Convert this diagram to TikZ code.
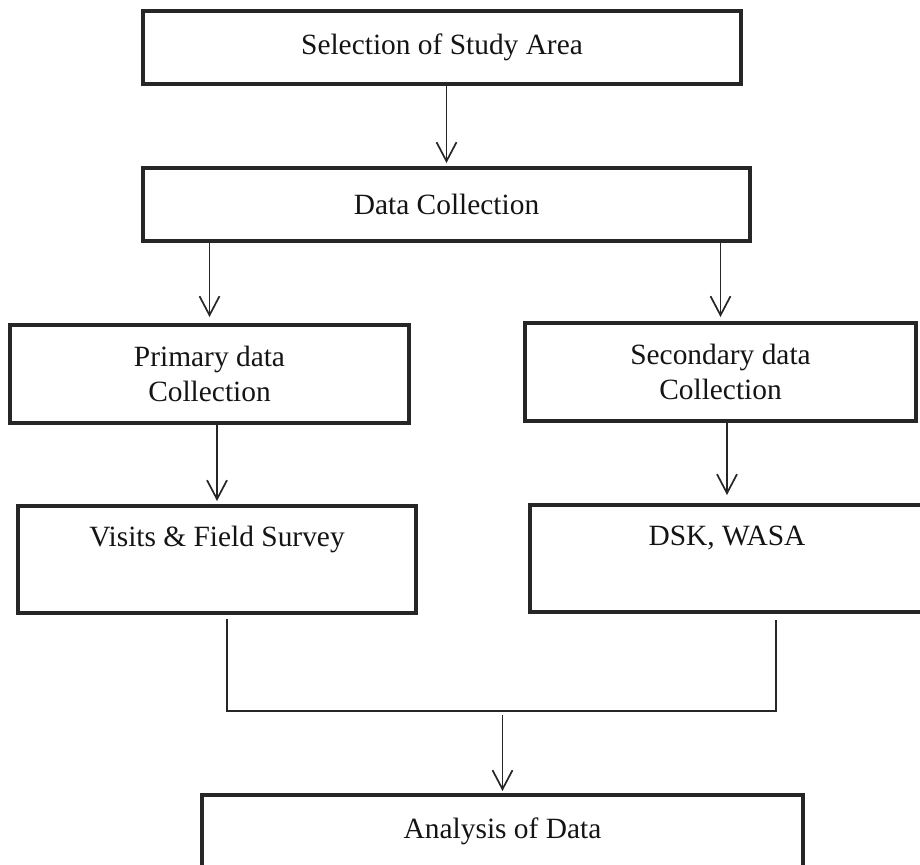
\documentclass[tikz,border=0pt]{standalone}
\usepackage{fontspec}
\setmainfont{Liberation Serif}
\usepackage{tikz}
\usepackage{xcolor}
\usetikzlibrary{positioning, arrows.meta, calc}
\definecolor{boxEdge}{HTML}{262626}
\definecolor{boxText}{HTML}{141414}

\begin{document}
\begin{tikzpicture}[x=0.5pt, y=-0.5pt,
    flowbox/.style={rectangle, draw=boxEdge, line width=2pt, inner sep=0pt,
      text=boxText, align=center, font=\fontsize{14.7}{17.5}\selectfont},
    toptext/.style={text height=11pt, text depth=24pt},
    flowarrow/.style={-{Straight Barb[length=9.5pt, width=10pt]}, line width=0.85pt, draw=boxEdge},
    flowline/.style={line width=0.85pt, draw=boxEdge}]
  \useasboundingbox (0,0) rectangle (920,865);

  % boxes
  \node[flowbox, minimum width=299pt, minimum height=36.5pt]
    (sel) at (442, 47.5) {Selection of Study Area};
  \node[flowbox, minimum width=303.5pt, minimum height=36.5pt]
    (data) at (446.5, 204.5) {Data Collection};
  \node[flowbox, minimum width=199.5pt, minimum height=49pt]
    (prim) at (209.5, 374) {Primary data\\Collection};
  \node[flowbox, minimum width=195.5pt, minimum height=49pt]
    (sec) at (720.5, 372) {Secondary data\\Collection};
  \node[flowbox, toptext, minimum width=199pt, minimum height=53.5pt]
    (visits) at (217, 559.5) {Visits \& Field Survey};
  \node[flowbox, toptext, minimum width=197pt, minimum height=53.5pt]
    (dsk) at (727, 558.5) {DSK, WASA};
  \node[flowbox, minimum width=300.5pt, minimum height=36pt]
    (analysis) at (502.5, 831) {Analysis of Data};

  % arrows
  \draw[flowarrow] (data.north |- sel.south) -- ([yshift=1.5pt]data.north);
  \draw[flowarrow] (data.south -| prim.north) -- ([yshift=3pt]prim.north);
  \draw[flowarrow] (data.south -| sec.north) -- ([yshift=2pt]sec.north);
  \draw[flowarrow] (prim.south -| visits.north) -- ([yshift=1.5pt]visits.north);
  \draw[flowarrow] ([yshift=2pt]sec.south -| dsk.north) -- ([yshift=4pt]dsk.north);

  % join of the two branches
  \coordinate (merge) at (502.5, 711);
  \draw[flowline] ([xshift=5pt, yshift=-2pt]visits.south) |- (merge)
    -| ([xshift=24.5pt, yshift=-3pt]dsk.south);
  \draw[flowarrow] ([yshift=-2pt]merge) -- ([yshift=1pt]analysis.north);
\end{tikzpicture}
\end{document}
